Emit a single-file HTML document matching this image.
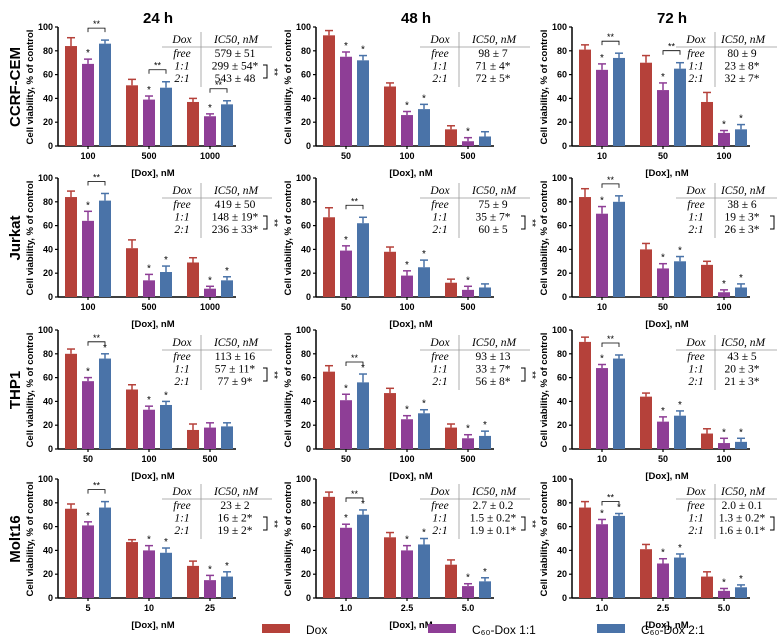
<!DOCTYPE html>
<html><head><meta charset="utf-8"><style>
body{margin:0;background:#fff}
svg{display:block;font-family:"Liberation Sans",sans-serif}
.tick{font-size:9px;font-weight:bold}
.tbl{font-family:"Liberation Serif",serif;font-size:11.5px}
</style></head><body>
<svg id="fig" width="778" height="643" viewBox="0 0 778 643"></svg>
<script>
const rowNames = ["CCRF-CEM","Jurkat","THP1","Molt16"];
const colNames = ["24 h","48 h","72 h"];
const doses = [
 [["100","500","1000"],["50","100","500"],["10","50","100"]],
 [["100","500","1000"],["50","100","500"],["10","50","100"]],
 [["50","100","500"],["50","100","500"],["10","50","100"]],
 [["5","10","25"],["1.0","2.5","5.0"],["1.0","2.5","5.0"]]
];
const doxValues = [
 [[84,51,37],[93,50,14],[81,70,37]],
 [[84,41,29],[67,38,12],[84,40,27]],
 [[80,50,16],[65,47,18],[90,44,13]],
 [[75,47,27],[85,51,28],[76,41,18]]
];
const c11Values = [
 [[69,39,25],[75,26,4],[64,47,11]],
 [[64,14,7],[39,18,6],[70,24,4]],
 [[57,33,18],[41,25,9],[68,23,5]],
 [[61,40,15],[59,40,10],[62,29,6]]
];
const c21Values = [
 [[86,49,35],[72,31,8],[74,65,14]],
 [[81,21,14],[62,25,8],[80,30,8]],
 [[76,37,19],[56,30,11],[76,28,6]],
 [[76,38,18],[70,45,14],[69,34,9]]
];
const doxErr = [
 [[7,5,3],[4,3,3],[4,6,8]],
 [[5,7,4],[8,4,3],[7,5,3]],
 [[4,4,5],[5,4,3],[4,3,4]],
 [[4,2,4],[4,4,4],[5,4,4]]
];
const c11Err = [
 [[4,3,2],[4,3,3],[5,6,2]],
 [[8,5,2],[4,4,3],[6,4,2]],
 [[3,3,4],[5,3,3],[3,4,4]],
 [[3,4,4],[3,4,2],[4,4,2]]
];
const c21Err = [
 [[3,5,3],[4,4,4],[4,5,4]],
 [[6,5,3],[5,6,3],[5,4,3]],
 [[4,3,3],[7,3,4],[3,4,3]],
 [[5,4,4],[4,5,3],[2,3,2]]
];
// star markers: p = purple, b = blue, B = bracket ** between purple and blue
const stars = [
 [["pB","pB","pB"],["pb","pb","p"],["pB","pB","pb"]],
 [["pB","pb","pb"],["pB","pb","p"],["pB","pb","pb"]],
 [["pbB","pb",""],["pbB","pb","pb"],["pB","pb","pb"]],
 [["pB","pb","pb"],["pbB","pb","pb"],["pbB","pb","pb"]]
];
const ic50 = [
 [["579 ± 51","299 ± 54*","543 ± 48"],["98 ± 7","71 ± 4*","72 ± 5*"],["80 ± 9","23 ± 8*","32 ± 7*"]],
 [["419 ± 50","148 ± 19*","236 ± 33*"],["75 ± 9","35 ± 7*","60 ± 5"],["38 ± 6","19 ± 3*","26 ± 3*"]],
 [["113 ± 16","57 ± 11*","77 ± 9*"],["93 ± 13","33 ± 7*","56 ± 8*"],["43 ± 5","20 ± 3*","21 ± 3*"]],
 [["23 ± 2","16 ± 2*","19 ± 2*"],["2.7 ± 0.2","1.5 ± 0.2*","1.9 ± 0.1*"],["2.0 ± 0.1","1.3 ± 0.2*","1.6 ± 0.1*"]]
];
const sideBracket = [[1,0,0],[1,1,1],[1,1,0],[1,1,1]];
const yTicks = [0,20,40,60,80,100];
const colors = ["#b5413a","#8e3e96","#4a73a8"];
const axX = [58,316,572];
const valShift = [0,0,-7];
const axTop = [27,178,330,479];
const H = 119, W = 178;
const svg = document.getElementById('fig');
const NS = "http://www.w3.org/2000/svg";
function mk(tag, attrs, parent, text){
  const e = document.createElementNS(NS, tag);
  for (const k in attrs) e.setAttribute(k, attrs[k]);
  if (text !== undefined) e.textContent = text;
  (parent||svg).appendChild(e); return e;
}
colNames.forEach((c,i)=>{
  const t = mk('text',{x:axX[i]+100,y:23,'text-anchor':'middle','font-size':'15','font-weight':'bold'},svg,c);
  
  
});
rowNames.forEach((r,j)=>{
  const cy = axTop[j]+60;
  const t = mk('text',{x:20,y:cy,'text-anchor':'middle','font-size':'15','font-weight':'bold',transform:`rotate(-90 20 ${cy})`},svg,r);
  
  
});
for (let r=0;r<4;r++) for (let c=0;c<3;c++){
  const x0 = axX[c], y0 = axTop[r];
  const g = mk('g',{});
  
  
  const yS = v => y0 + H - v/100*H;
  const gx = i => x0 + 30 + 61*i;
  mk('line',{x1:x0,y1:y0,x2:x0,y2:y0+H,stroke:'#000','stroke-width':1.5},g);
  mk('line',{x1:x0,y1:y0+H,x2:x0+W,y2:y0+H,stroke:'#000','stroke-width':1.5},g);
  yTicks.forEach(t=>{
    mk('line',{x1:x0-3,y1:yS(t),x2:x0,y2:yS(t),stroke:'#000','stroke-width':1.2},g);
    const tl = mk('text',{x:x0-5,y:yS(t)+3,'text-anchor':'end',class:'tick'},g,String(t));
    
    
  });
  const yt = mk('text',{x:x0-25,y:y0+60,'text-anchor':'middle','font-size':'9.5','font-weight':'bold',transform:`rotate(-90 ${x0-25} ${y0+60})`},g,'Cell viability, % of control');
  
  
  const xt = mk('text',{x:x0+95,y:y0+H+30,'text-anchor':'middle','font-size':'9.5','font-weight':'bold'},g,'[Dox], nM');
  
  
  const sets = [doxValues[r][c],c11Values[r][c],c21Values[r][c]];
  const errs = [doxErr[r][c],c11Err[r][c],c21Err[r][c]];
  for (let i=0;i<3;i++){
    mk('line',{x1:gx(i),y1:y0+H,x2:gx(i),y2:y0+H+3,stroke:'#000','stroke-width':1.2},g);
    const xl = mk('text',{x:gx(i),y:y0+H+13,'text-anchor':'middle',class:'tick'},g,doses[r][c][i]);
    
    
    for (let s=0;s<3;s++){
      const cx = gx(i) + (s-1)*17, v = sets[s][i], e = errs[s][i];
      const top = yS(v+e);
      mk('line',{x1:cx,y1:top,x2:cx,y2:yS(v),stroke:colors[s],'stroke-width':1.5},g);
      mk('line',{x1:cx-4,y1:top,x2:cx+4,y2:top,stroke:colors[s],'stroke-width':1.5},g);
      const b = mk('rect',{x:cx-6,y:yS(v),width:12,height:v/100*H,fill:colors[s]},g);
      
      
    }
    const st = stars[r][c][i];
    if (st.includes('p')) mk('text',{x:gx(i),y:yS(sets[1][i]+errs[1][i])-3,'text-anchor':'middle','font-size':'10'},g,'*');
    if (st.includes('b')) mk('text',{x:gx(i)+17,y:yS(sets[2][i]+errs[2][i])-3,'text-anchor':'middle','font-size':'10'},g,'*');
    if (st.includes('B')){
      const by = Math.min(yS(sets[1][i]+errs[1][i]), yS(sets[2][i]+errs[2][i])) - 12;
      mk('path',{d:`M${gx(i)} ${by+4}V${by}H${gx(i)+17}V${by+4}`,fill:'none',stroke:'#000','stroke-width':0.8},g);
      mk('text',{x:gx(i)+8.5,y:by-1,'text-anchor':'middle','font-size':'9'},g,'**');
    }
  }
  const vs = valShift[c];
  const tb = mk('g',{class:'tbl'},g);
  
  
  mk('line',{x1:x0+143,y1:y0+5,x2:x0+143,y2:y0+60,stroke:'#999','stroke-width':0.8},tb);
  mk('line',{x1:x0+104,y1:y0+20,x2:Math.min(x0+214,777),y2:y0+20,stroke:'#999','stroke-width':0.8},tb);
  mk('text',{x:x0+124,y:y0+16,'text-anchor':'middle','font-style':'italic'},tb,'Dox');
  mk('text',{x:x0+178+vs,y:y0+16,'text-anchor':'middle','font-style':'italic'},tb,'IC50, nM');
  ["free","1:1","2:1"].forEach((lab,k)=>{
    mk('text',{x:x0+124,y:y0+30+k*12.5,'text-anchor':'middle','font-style':'italic'},tb,lab);
    mk('text',{x:x0+177+vs,y:y0+30+k*12.5,'text-anchor':'middle'},tb,ic50[r][c][k]);
  });
  if (sideBracket[r][c]){
    const bx = x0+209+vs;
    mk('path',{d:`M${bx-4} ${y0+38}H${bx}V${y0+51}H${bx-4}`,fill:'none',stroke:'#000','stroke-width':1},tb);
    mk('text',{x:bx+4,y:y0+45,'font-size':'10','font-family':'Liberation Sans',transform:`rotate(90 ${bx+4} ${y0+45})`,'text-anchor':'middle'},tb,'**');
  }
}
const legend = mk('g',{});


[[262,'Dox'],[428,'C₆₀-Dox 1:1'],[597,'C₆₀-Dox 2:1']].forEach((L,k)=>{
  const sw = mk('rect',{x:L[0],y:624,width:28,height:9,fill:colors[k]},legend);
  
  
  const t = mk('text',{x:L[0]+44,y:634,'font-size':'12'},legend,L[1]);
  
  
});
</script>
</body></html>
